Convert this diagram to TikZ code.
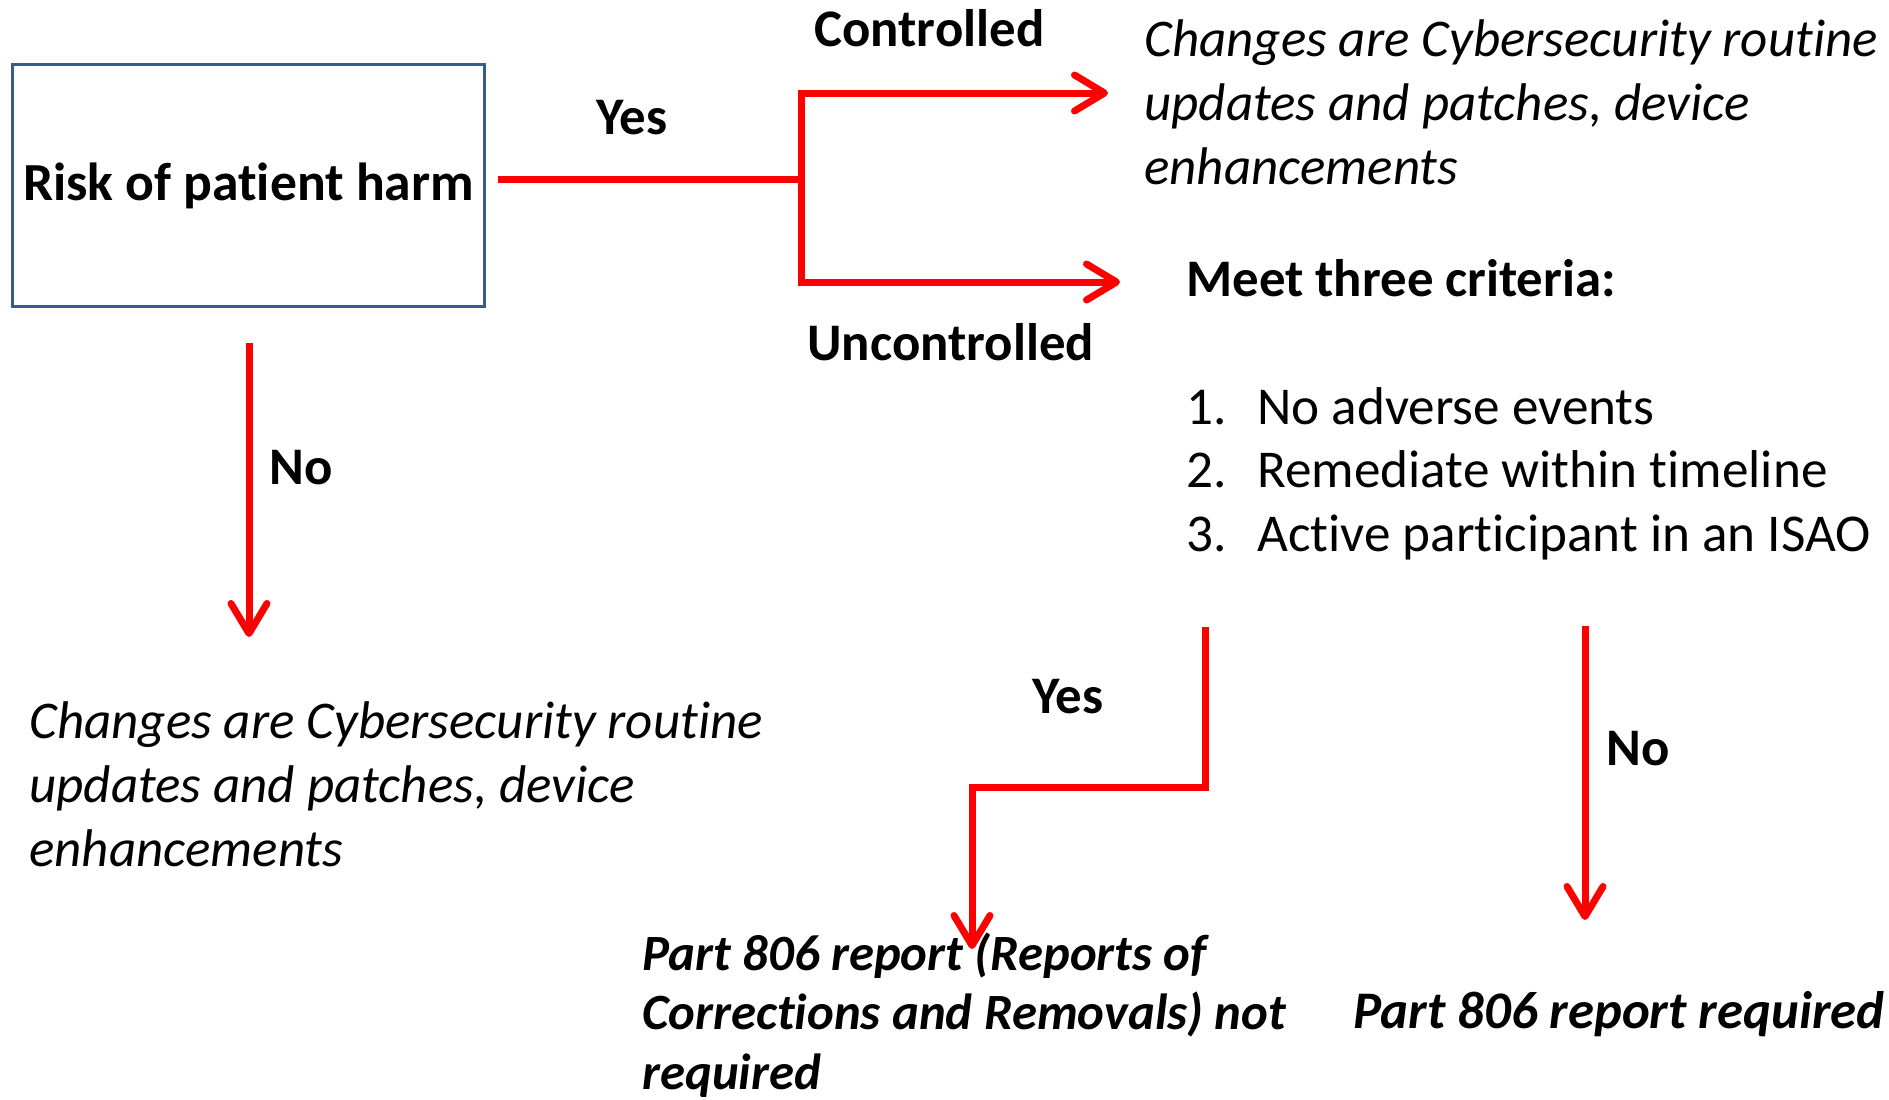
\documentclass[tikz,border=0pt]{standalone}
\usepackage{fontspec}
\setmainfont{Carlito}[Ligatures=NoCommon]
\usetikzlibrary{arrows.meta}
\definecolor{boxblue}{HTML}{385D8A}
\definecolor{arrred}{HTML}{FF0000}
\begin{document}
\begin{tikzpicture}[x=0.5pt,y=-0.5pt,
  redline/.style={draw=arrred, line width=3.5pt},
  redarrow/.style={redline,-{Straight Barb[length=15pt,width=18pt,round]}},
  lbl/.style={anchor=base west, inner sep=0pt, font=\fontsize{26.4}{32}\selectfont\bfseries},
  blk/.style={anchor=base west, inner sep=0pt},
]
\useasboundingbox[fill=white] (0,0) rectangle (1889,1099);

% box
\node[draw=boxblue, line width=1.5pt, minimum width=236pt, minimum height=121pt, inner sep=0pt,
      font=\fontsize{26.8}{32}\selectfont\bfseries] (risk) at (248.5,185.5) {Risk of patient harm};

% text blocks
\node[blk, font=\fontsize{26.5}{32}\selectfont\itshape] (ctrltext) at (1144,56.5)
  {\begin{tabular}[t]{@{}l@{}}Changes are Cybersecurity routine\\updates and patches, device\\enhancements\end{tabular}};
\node[lbl] (meet) at (1186,296) {Meet three criteria:};
\node[blk, font=\fontsize{26.6}{31.75}\selectfont] (list) at (1186,424)
  {\begin{tabular}[t]{@{}p{35.5pt}@{}l@{}}1.&No adverse events\\2.&Remediate within timeline\\3.&Active participant in an ISAO\end{tabular}};
\node[blk, font=\fontsize{26.5}{32}\selectfont\itshape] (nochange) at (29,738)
  {\begin{tabular}[t]{@{}l@{}}Changes are Cybersecurity routine\\updates and patches, device\\enhancements\end{tabular}};
\node[blk, font=\fontsize{25.4}{29.75}\selectfont\bfseries\itshape] (notreq) at (642,970)
  {\begin{tabular}[t]{@{}l@{}}Part 806 report (Reports of\\Corrections and Removals) not\\required\end{tabular}};
\node[blk, font=\fontsize{26.4}{32}\selectfont\bfseries\itshape] (req) at (1353,1028) {Part 806 report required};

% labels
\node[lbl] (lctrl) at (814,46) {Controlled};
\node[lbl] (lyes1) at (596,134) {Yes};
\node[lbl] (lunc) at (807,360) {Uncontrolled};
\node[lbl] (lno1) at (269,484) {No};
\node[lbl] (lyes2) at (1032,713) {Yes};
\node[lbl] (lno2) at (1606,765) {No};

% connector points
\coordinate (yesstart) at (498,179);
\coordinate (junc) at (801,179);
\coordinate (ctrltip) at (1108,93);
\coordinate (unctip) at (1120,282);
\coordinate (nostart) at (249,343);
\coordinate (notip) at (249,637);
\coordinate (midstart) at (1205,627);
\coordinate (midbendA) at (1205,787);
\coordinate (midbendB) at (972,787);
\coordinate (midtip) at (972,949);
\coordinate (rstart) at (1585,626);
\coordinate (rtip) at (1585,920);

% connectors
\draw[redline] (yesstart) -- (junc);
\draw[redarrow] (junc) |- (ctrltip);
\draw[redarrow] (junc) |- (unctip);
\draw[redarrow] (nostart) -- (notip);
\draw[redarrow] (midstart) -- (midbendA) -- (midbendB) -- (midtip);
\draw[redarrow] (rstart) -- (rtip);
\end{tikzpicture}
\end{document}
